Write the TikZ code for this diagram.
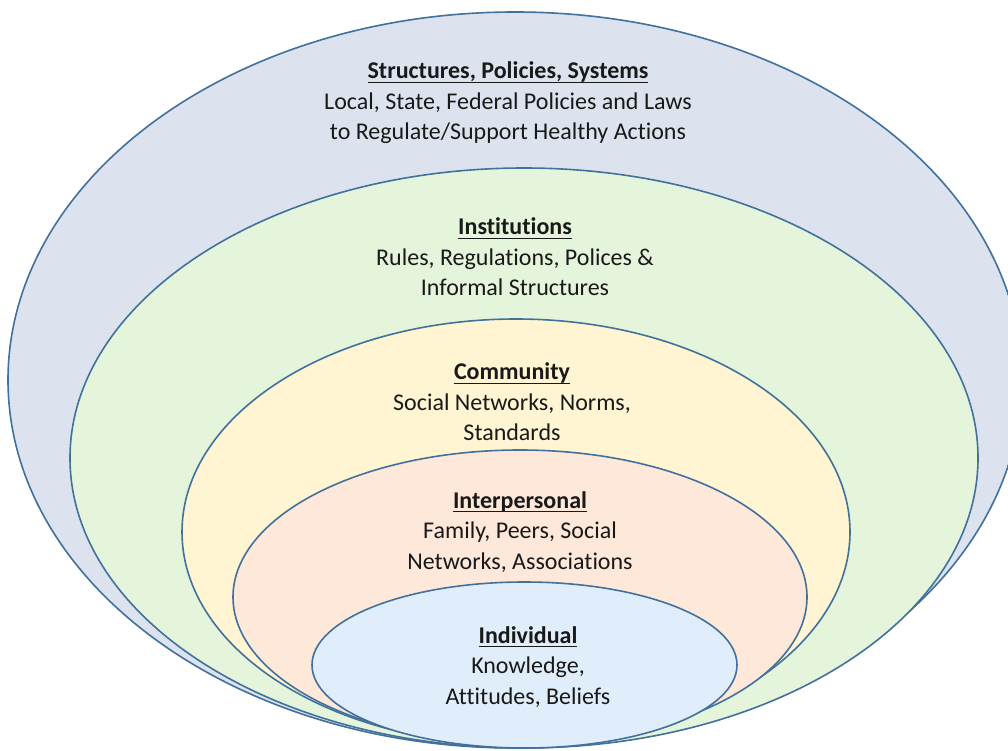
\documentclass[tikz,border=0pt]{standalone}
\usepackage{fontspec}
\setmainfont{Carlito}[Ligatures=NoCommon]
\definecolor{edge}{HTML}{41719C}
\definecolor{fsys}{HTML}{DCE3EE}
\definecolor{finst}{HTML}{E5F5DC}
\definecolor{fcomm}{HTML}{FFF5D3}
\definecolor{finter}{HTML}{FDE8DA}
\definecolor{find}{HTML}{E0EEFB}
\newcommand{\ulhead}[1]{\setbox0\hbox{\bfseries #1}\rlap{\rule[-4pt]{\wd0}{1.3pt}}\box0}
\tikzset{
  ring/.style={draw=edge, line width=1.6pt},
  lbl/.style={align=center, font=\fontsize{24}{30.5}\selectfont, text=black!90, inner sep=0pt, anchor=center}
}
\begin{document}
\begin{tikzpicture}[x=1pt,y=-1pt]
\useasboundingbox (0,0) rectangle (1008,751);
\fill[white] (0,0) rectangle (1008,751);
\path[ring, fill=fsys] (515,380) ellipse [x radius=507pt, y radius=368pt];
\path[ring, fill=finst] (524,458) ellipse [x radius=454pt, y radius=290pt];
\path[ring, fill=fcomm] (516,532) ellipse [x radius=334pt, y radius=213pt];
\path[ring, fill=finter] (520,597) ellipse [x radius=287pt, y radius=147pt];
\path[ring, fill=find] (524.5,665) ellipse [x radius=212.5pt, y radius=83pt];
\node[lbl] (sys) at (508,103) {\ulhead{Structures, Policies, Systems}\\Local, State, Federal Policies and Laws\\to Regulate/Support Healthy Actions};
\node[lbl] (inst) at (515,257) {\ulhead{Institutions}\\Rules, Regulations, Polices \&\\Informal Structures};
\node[lbl] (comm) at (512,402) {\ulhead{Community}\\Social Networks, Norms,\\Standards};
\node[lbl] (inter) at (520,532) {\ulhead{Interpersonal}\\Family, Peers, Social\\Networks, Associations};
\node[lbl] (indiv) at (528,667) {\ulhead{Individual}\\Knowledge,\\Attitudes, Beliefs};
\end{tikzpicture}
\end{document}
